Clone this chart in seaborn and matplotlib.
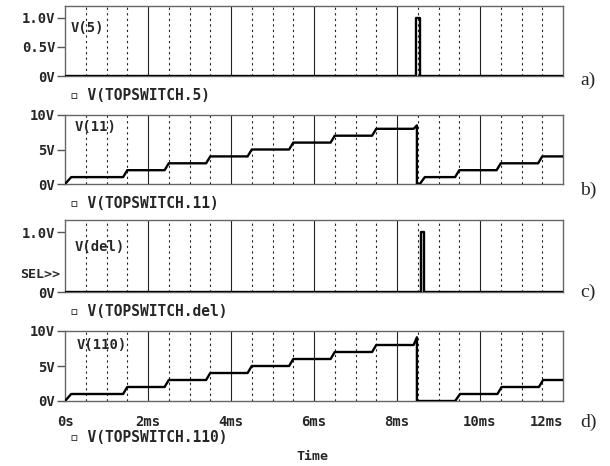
import matplotlib
matplotlib.use("Agg")
import matplotlib.pyplot as plt
import seaborn as sns
import pandas as pd

# Datos (tiempo en ms, tensión en V)
t_5 = [0, 8.45, 8.45, 8.55, 8.55, 12]
v_5 = [0, 0, 1, 1, 0, 0]

t_11 = [0, 0.15, 1.4, 1.5, 2.4, 2.5, 3.4, 3.5, 4.4, 4.5, 5.4, 5.5, 6.4, 6.5,
        7.4, 7.5, 8.4, 8.48, 8.48, 8.55, 8.67, 9.4, 9.5, 10.4, 10.5, 11.4, 11.5, 12]
v_11 = [0, 1, 1, 2, 2, 3, 3, 4, 4, 5, 5, 6, 6, 7,
        7, 8, 8, 8.5, 0, 0, 1, 1, 2, 2, 3, 3, 4, 4]

t_del = [0, 8.57, 8.57, 8.65, 8.65, 12]
v_del = [0, 0, 1, 1, 0, 0]

t_110 = [0, 0.15, 1.4, 1.5, 2.4, 2.5, 3.4, 3.5, 4.4, 4.5, 5.4, 5.5, 6.4, 6.5,
         7.4, 7.5, 8.4, 8.48, 8.48, 9.4, 9.52, 10.42, 10.52, 11.42, 11.52, 12]
v_110 = [0, 1, 1, 2, 2, 3, 3, 4, 4, 5, 5, 6, 6, 7,
         7, 8, 8, 9.1, 0, 0, 1, 1, 2, 2, 3, 3]

trace_names = ["V(5)", "V(11)", "V(del)", "V(110)"]
legend_names = ["V(TOPSWITCH.5)", "V(TOPSWITCH.11)", "V(TOPSWITCH.del)", "V(TOPSWITCH.110)"]
panel_tags = ["a)", "b)", "c)", "d)"]
y_ticks = [[0, 0.5, 1.0], [0, 5, 10], [0, 1.0], [0, 5, 10]]
y_ticklabels = [["0V", "0.5V", "1.0V"], ["0V", "5V", "10V"], ["0V", "1.0V"], ["0V", "5V", "10V"]]
y_limits = [(0, 1.2), (0, 10), (0, 1.2), (0, 10)]
x_ticks = [0, 2, 4, 6, 8, 10, 12]
x_ticklabels = ["0s", "2ms", "4ms", "6ms", "8ms", "10ms", "12ms"]

sns.set_style("white")
plt.rcParams["font.family"] = ["DejaVu Sans Mono", "DejaVu Sans"]
plt.rcParams["font.weight"] = "bold"

fig = plt.figure(figsize=(6.1, 4.66), dpi=100)

W, H = 610.0, 466.0
x0, x1 = 65, 563
panel_px = [(6, 76), (115, 184), (220, 292), (331, 401)]
legend_y = [95, 204, 312, 438]
tag_y = [80, 190, 292, 422]
trace_lbl = [(71, 28), (75, 127), (75, 247), (77, 345)]

series = [(t_5, v_5), (t_11, v_11), (t_del, v_del), (t_110, v_110)]

for i, ((t, v), (top, bot)) in enumerate(zip(series, panel_px)):
    ax = fig.add_axes([x0 / W, 1 - bot / H, (x1 - x0) / W, (bot - top) / H])
    df = pd.DataFrame({"t": t, "v": v})

    # rejilla vertical
    for k in range(1, 24):
        xg = k * 0.5
        if k % 4 == 0:
            ax.axvline(xg, color="#222222", lw=0.8, zorder=1)
        else:
            ax.axvline(xg, color="#222222", lw=0.8, ls=(0, (2, 3)), zorder=1)

    sns.lineplot(data=df, x="t", y="v", ax=ax, color="black", lw=1.7,
                 estimator=None, sort=False, zorder=3)

    ax.set_xlim(0, 12)
    ax.set_ylim(*y_limits[i])
    ax.set_yticks(y_ticks[i])
    ax.set_yticklabels(y_ticklabels[i])
    ax.set_xlabel("")
    ax.set_ylabel("")
    ax.tick_params(axis="y", direction="out", length=6, width=1, color="#555555",
                   pad=1, labelsize=10, left=True)
    ax.set_xticks(x_ticks)
    if i == 3:
        ax.set_xticklabels(x_ticklabels)
        ax.tick_params(axis="x", length=0, pad=10, labelsize=10)
        ax.get_xticklabels()[-1].set_ha("right")
    else:
        ax.set_xticklabels([])
        ax.tick_params(axis="x", length=0)
    for s in ax.spines.values():
        s.set_color("#666666")
        s.set_linewidth(1.0)
        s.set_visible(True)
    ax.grid(False)

    fig.text(trace_lbl[i][0] / W, 1 - trace_lbl[i][1] / H, trace_names[i],
             fontsize=10, fontweight="bold", va="center", ha="left")
    fig.text(70 / W, 1 - legend_y[i] / H, "▫ " + legend_names[i],
             fontsize=10.5, fontweight="bold", va="center", ha="left")
    fig.text(580 / W, 1 - tag_y[i] / H, panel_tags[i], family="Liberation Serif",
             fontsize=14, fontweight="normal", va="center", ha="left")

fig.text(60 / W, 1 - 275 / H, "SEL>>", fontsize=9.5, fontweight="bold",
         va="center", ha="right")
fig.text(312 / W, 1 - 457 / H, "Time", fontsize=9.5, fontweight="bold",
         va="center", ha="center")

fig.savefig("out.png", dpi=100)
